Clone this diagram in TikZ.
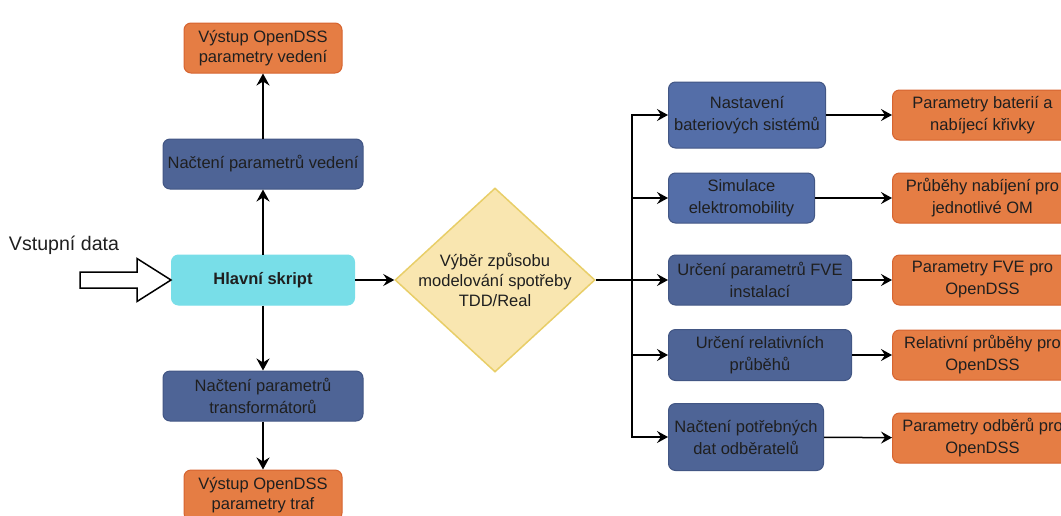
\documentclass[tikz,border=0pt]{standalone}
\usepackage{fontspec}
\setmainfont{Liberation Sans}
\usetikzlibrary{arrows.meta,shapes,positioning,calc}
\definecolor{modra}{RGB}{84,110,168}
\definecolor{modratm}{RGB}{78,100,150}
\definecolor{modraokraj}{RGB}{66,86,132}
\definecolor{oranz}{RGB}{229,125,68}
\definecolor{oranzokraj}{RGB}{214,100,48}
\definecolor{tyrkys}{RGB}{120,222,232}
\definecolor{zluta}{RGB}{249,230,176}
\definecolor{zlutaokraj}{RGB}{232,206,104}
\newcommand{\pismo}{\fontsize{16.5}{22}\selectfont}
\newcommand{\pismouzke}{\fontsize{16.5}{20}\selectfont}

\begin{document}
\begin{tikzpicture}[x=1pt,y=-1pt]
\tikzstyle{box}=[rectangle, rounded corners=7pt, align=center, inner sep=0pt, minimum height=50pt, font=\pismo, text=black!88, line width=1pt]
\tikzstyle{proces}=[box, fill=modratm, draw=modraokraj]
\tikzstyle{proces2}=[box, fill=modra, draw=modraokraj]
\tikzstyle{vystup}=[box, fill=oranz, draw=oranzokraj, minimum width=180pt]
\tikzstyle{hlavni}=[box, fill=tyrkys, draw=tyrkys, minimum width=183pt, font=\pismo\bfseries]
\tikzstyle{rozhod}=[diamond, fill=zluta, draw=zlutaokraj, line width=1.5pt, align=center, font=\fontsize{16.5}{20}\selectfont, text=black!88, shape aspect=1.087, inner sep=-6pt, minimum width=200pt, minimum height=184pt]
\tikzstyle{connect}=[-{Stealth[length=12pt,width=13pt,inset=4pt]}, line width=2pt]
\tikzstyle{vetev}=[-{Stealth[length=11pt,width=12pt,inset=4pt]}, line width=1.5pt]
\useasboundingbox (0,0) rectangle (1061,515);

  % levy sloupec
  \node[hlavni] (main) at (263,280) {Hlavní skript};
  \node[proces] (vedeni) [above of=main, node distance=116pt, minimum width=200pt] {Načtení parametrů vedení};
  \node[vystup] (vystupV) [above of=vedeni, node distance=116pt, minimum width=158pt, font=\pismouzke] {Výstup OpenDSS\\parametry vedení};
  \node[proces] (trafo) [below of=main, node distance=116pt, minimum width=200pt] {Načtení parametrů\\transformátorů};
  \node[vystup] (vystupT) [below of=trafo, node distance=99pt, minimum width=158pt, font=\pismouzke] {Výstup OpenDSS\\parametry traf};
  \node[rozhod] (vyber) [right of=main, node distance=232pt] {Výběr způsobu\\modelování spotřeby\\TDD/Real};

  % vstup
  \node[font=\fontsize{19.6}{22}\selectfont, text=black!88] (vstup) at (64,245) {Vstupní data};
  \draw[line width=1.5pt, fill=white] (main.west) -- ++(-34,-21.5) -- ++(0,13.5) -- ++(-57,0)
    -- ++(0,16) -- ++(57,0) -- ++(0,13.5) -- cycle;

  % pravy sloupec
  \node[proces2, anchor=west, minimum width=157pt, minimum height=66pt] (bat) at (668,115) {Nastavení\\bateriových sistémů};
  \node[proces2, anchor=west, minimum width=146pt] (emob) at (668,198) {Simulace\\elektromobility};
  \node[proces, anchor=west, minimum width=183pt] (fve) at (668,280) {Určení parametrů FVE\\instalací};
  \node[proces, anchor=west, minimum width=183pt, minimum height=51pt] (rel) at (668,355) {Určení relativních\\průběhů};
  \node[proces, anchor=west, minimum width=155pt, minimum height=67pt] (odb) at (668,437) {Načtení potřebných\\dat odběratelů};

  \node[vystup, anchor=west] (pbat) at (892,115) {Parametry baterií a\\nabíjecí křivky};
  \node[vystup, anchor=west] (pemob) at (892,198) {Průběhy nabíjení pro\\jednotlivé OM};
  \node[vystup, anchor=west] (pfve) at (892,280) {Parametry FVE pro\\OpenDSS};
  \node[vystup, anchor=west] (prel) at (892,355) {Relativní průběhy pro\\OpenDSS};
  \node[vystup, anchor=west] (podb) at (892,438) {Parametry odběrů pro\\OpenDSS};

  \coordinate (rozv) at (632,280);

  \path (main) edge [connect] (vedeni)
        (vedeni) edge [connect] (vystupV)
        (main) edge [connect] (trafo)
        (trafo) edge [connect] (vystupT)
        (main) edge [vetev] (vyber);

  \draw[line width=1.5pt] (vyber.east) -- (rozv);
  \foreach \n in {bat,emob,fve,rel,odb}
    \draw[vetev] (rozv) |- (\n);
  \foreach \n/\m in {bat/pbat,emob/pemob,fve/pfve,rel/prel,odb/podb}
    \draw[vetev] (\n) -- (\m);

\end{tikzpicture}
\end{document}
